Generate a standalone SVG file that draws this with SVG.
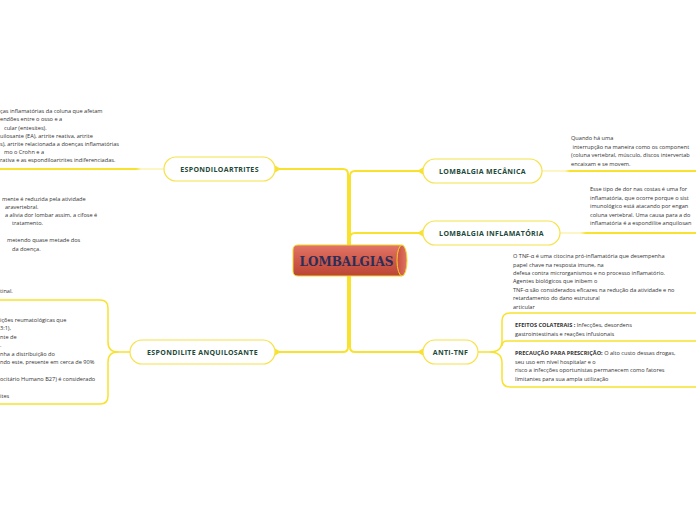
<svg xmlns="http://www.w3.org/2000/svg" width="696" height="520" viewBox="0 0 696 520">
<style>
.t{font-family:"Open Sans","DejaVu Sans",sans-serif;font-size:5.6px;fill:#333;}
.b{font-weight:bold;}
.lbl{font-family:"Open Sans","DejaVu Sans",sans-serif;font-size:7px;font-weight:bold;fill:#1d4a3a;text-anchor:middle;letter-spacing:0.35px;}
.node{fill:#fff;stroke:#f6e24a;stroke-width:1.2;}
.con{fill:none;stroke:#f8e22e;stroke-width:2;}
.br{fill:none;stroke:#f8e22e;stroke-width:1.5;}
.arr{fill:#f8e22e;}
</style>
<defs>
<linearGradient id="cyl" x1="0" y1="0" x2="0" y2="1">
<stop offset="0" stop-color="#e27566"/>
<stop offset="0.5" stop-color="#cf5a4a"/>
<stop offset="1" stop-color="#bb4536"/>
</linearGradient>
<linearGradient id="cap" x1="0" y1="0" x2="1" y2="0">
<stop offset="0" stop-color="#c84f40"/>
<stop offset="1" stop-color="#e07564"/>
</linearGradient>
<linearGradient id="gL" gradientUnits="userSpaceOnUse" x1="164" y1="0" x2="0" y2="0">
<stop offset="0" stop-color="#fdf6c4"/>
<stop offset="0.14" stop-color="#fdf6c4"/>
<stop offset="0.17" stop-color="#f8e22e"/>
<stop offset="1" stop-color="#f8e22e"/>
</linearGradient>
<linearGradient id="gM" gradientUnits="userSpaceOnUse" x1="542" y1="0" x2="696" y2="0">
<stop offset="0" stop-color="#fdf6c4"/>
<stop offset="0.15" stop-color="#fdf6c4"/>
<stop offset="0.18" stop-color="#f8e22e"/>
<stop offset="1" stop-color="#f8e22e"/>
</linearGradient>
<linearGradient id="gI" gradientUnits="userSpaceOnUse" x1="560" y1="0" x2="696" y2="0">
<stop offset="0" stop-color="#fdf6c4"/>
<stop offset="0.15" stop-color="#fdf6c4"/>
<stop offset="0.19" stop-color="#f8e22e"/>
<stop offset="1" stop-color="#f8e22e"/>
</linearGradient>
</defs>
<rect width="696" height="520" fill="#fff"/>

<g id="connectors">
<path class="con" d="M348,250 V174 Q348,169 343,169 H277"/>
<path class="con" d="M350,250 V176 Q350,171 355,171 H423"/>
<path class="con" d="M350,245 V238 Q350,233 355,233 H423"/>
<path class="con" d="M350,276 V347 Q350,352 355,352 H423"/>
<path class="con" d="M348,276 V347 Q348,352 343,352 H277"/>
<polygon class="arr" points="275,165.5 275,172.5 281,169"/>
<polygon class="arr" points="423,167.5 423,174.5 417,171"/>
<polygon class="arr" points="423,229.5 423,236.5 417,233"/>
<polygon class="arr" points="423,348.5 423,355.5 417,352"/>
<polygon class="arr" points="275,348.5 275,355.5 281,352"/>
<line x1="0" y1="169" x2="164" y2="169" stroke="url(#gL)" stroke-width="2"/>
<line x1="542" y1="171" x2="696" y2="171" stroke="url(#gM)" stroke-width="2"/>
<line x1="560" y1="233" x2="696" y2="233" stroke="url(#gI)" stroke-width="2"/>
<path class="br" d="M478,352 H490 Q502,352 502,341 V321 Q502,313 510,313 H696"/>
<path class="br" d="M490,352 Q502,352 502,363 V379 Q502,387 510,387 H696"/>
<path class="br" d="M502,346 Q502,341 507,341 H696"/>
<path class="br" d="M130,352 H118 Q108,352 108,342 V308 Q108,300 100,300 H0"/>
<path class="br" d="M118,352 Q108,352 108,362 V396 Q108,404 100,404 H0"/>
</g>

<g id="center">
<path d="M298,245 H402 V276 H298 Q293,276 293,271 V250 Q293,245 298,245 Z" fill="url(#cyl)" stroke="#f2d52a" stroke-width="1"/>
<ellipse cx="402" cy="260.5" rx="5" ry="15.5" fill="url(#cap)" stroke="#f2d52a" stroke-width="1"/>
<text x="346.5" y="265.5" font-family="'DejaVu Serif','Liberation Serif',serif" font-size="12" font-weight="bold" fill="#2b2d5a" text-anchor="middle">LOMBALGIAS</text>
</g>

<g id="espondiloartrites">
<rect class="node" x="164" y="157" width="111" height="24" rx="12"/>
<text class="lbl" x="219.5" y="171.5">ESPONDILOARTRITES</text>
</g>
<g id="lombalgia-mecanica">
<rect class="node" x="423" y="159" width="119" height="24" rx="12"/>
<text class="lbl" x="482.5" y="173.5">LOMBALGIA MECÂNICA</text>
</g>
<g id="lombalgia-inflamatoria">
<rect class="node" x="423" y="221" width="137" height="24" rx="12"/>
<text class="lbl" x="491.5" y="235.5">LOMBALGIA INFLAMATÓRIA</text>
</g>
<g id="anti-tnf">
<rect class="node" x="423" y="340" width="55" height="24" rx="12"/>
<text class="lbl" x="450.5" y="354.5">ANTI-TNF</text>
</g>
<g id="espondilite-anquilosante">
<rect class="node" x="130" y="340" width="145" height="24" rx="12"/>
<text class="lbl" x="202.5" y="354.5">ESPONDILITE ANQUILOSANTE</text>
</g>

<g id="texto-espondiloartrites">
<text class="t" x="0" y="113">ças inflamatórias da coluna que afetam</text>
<text class="t" x="0" y="121">endões entre o osso e a</text>
<text class="t" x="4" y="129.5">cular (entesites).</text>
<text class="t" x="0" y="137.5">uilosante (EA), artrite reativa, artrite</text>
<text class="t" x="0" y="145.5">s), artrite relacionada a doenças inflamatórias</text>
<text class="t" x="4" y="153.5">mo o Crohn e a</text>
<text class="t" x="0" y="162">rativa e as espondiloartrites indiferenciadas.</text>
</g>

<g id="texto-ea-1">
<text class="t" x="2" y="201">mente é reduzida pela atividade</text>
<text class="t" x="5" y="209">aravertebral.</text>
<text class="t" x="5" y="217">a alivia dor lombar  assim, a cifose é</text>
<text class="t" x="12" y="225">tratamento.</text>
<text class="t" x="7" y="242">metendo quase metade dos</text>
<text class="t" x="12" y="250.5">da doença.</text>
</g>

<g id="texto-ea-2">
<text class="t" x="0" y="293">tinal.</text>
</g>

<g id="texto-ea-3">
<text class="t" x="0" y="322">ições reumatológicas que</text>
<text class="t" x="0" y="330">3:1),</text>
<text class="t" x="0" y="339">nte de</text>
<text class="t" x="0" y="347">.</text>
<text class="t" x="0" y="356">nha a distribuição do</text>
<text class="t" x="0" y="364">ndo este, presente em cerca de 90%</text>
<text class="t" x="0" y="381">ocitário Humano B27) é considerado</text>
<text class="t" x="0" y="398">ites</text>
</g>

<g id="texto-mecanica">
<text class="t" x="571" y="140">Quando há uma</text>
<text class="t" x="572.5" y="148.5">interrupção na maneira como os component</text>
<text class="t" x="571" y="157">(coluna vertebral, músculo, discos intervertab</text>
<text class="t" x="571" y="165.5">encaixam e se movem.</text>
</g>

<g id="texto-inflamatoria">
<text class="t" x="590" y="191">Esse tipo de dor nas costas é uma for</text>
<text class="t" x="590" y="199.5">inflamatória, que ocorre porque o sist</text>
<text class="t" x="590" y="208">imunológico está atacando por engan</text>
<text class="t" x="590" y="216.5">coluna vertebral. Uma causa para a do</text>
<text class="t" x="590" y="225">inflamatória é a espondilite anquilosan</text>
</g>

<g id="texto-tnf">
<text class="t" x="513" y="258">O TNF-α é uma citocina pró-inflamatória que desempenha</text>
<text class="t" x="513" y="266.5">papel chave na resposta imune, na</text>
<text class="t" x="513" y="275">defesa contra microrganismos e no processo inflamatório.</text>
<text class="t" x="513" y="283">Agentes biológicos que inibem o</text>
<text class="t" x="513" y="291.5">TNF-α são considerados eficazes na redução da atividade e no</text>
<text class="t" x="513" y="300">retardamento do dano estrutural</text>
<text class="t" x="513" y="308.5">articular</text>
</g>

<g id="texto-efeitos">
<text class="t" x="515" y="327"><tspan class="b">EFEITOS COLATERAIS :</tspan> Infecções, desordens</text>
<text class="t" x="515" y="335.5">gastrointestinais e reações infusionais</text>
</g>

<g id="texto-precaucao">
<text class="t" x="515" y="355"><tspan class="b">PRECAUÇÃO PARA PRESCRIÇÃO:</tspan> O alto custo dessas drogas,</text>
<text class="t" x="515" y="363.5">seu uso em nível hospitalar e o</text>
<text class="t" x="515" y="372">risco a infecções oportunistas permanecem como fatores</text>
<text class="t" x="515" y="380.5">limitantes para sua ampla utilização</text>
</g>
</svg>
